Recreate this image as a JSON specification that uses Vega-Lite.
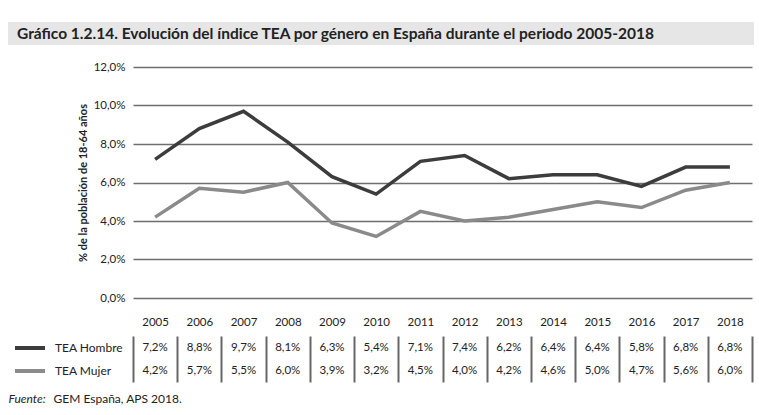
{
  "$schema": "https://vega.github.io/schema/vega-lite/v6.json",
  "padding": {"left": 8, "top": 22, "right": 4, "bottom": 4},
  "background": "white",
  "datasets": {
    "titulo": [{"t": "Gráfico 1.2.14.  Evolución del índice TEA por género en España durante el periodo 2005-2018"}],
    "tea": [
      {"year": 2005, "serie": "TEA Hombre", "value": 0.072},
      {"year": 2006, "serie": "TEA Hombre", "value": 0.088},
      {"year": 2007, "serie": "TEA Hombre", "value": 0.097},
      {"year": 2008, "serie": "TEA Hombre", "value": 0.081},
      {"year": 2009, "serie": "TEA Hombre", "value": 0.063},
      {"year": 2010, "serie": "TEA Hombre", "value": 0.054},
      {"year": 2011, "serie": "TEA Hombre", "value": 0.071},
      {"year": 2012, "serie": "TEA Hombre", "value": 0.074},
      {"year": 2013, "serie": "TEA Hombre", "value": 0.062},
      {"year": 2014, "serie": "TEA Hombre", "value": 0.064},
      {"year": 2015, "serie": "TEA Hombre", "value": 0.064},
      {"year": 2016, "serie": "TEA Hombre", "value": 0.058},
      {"year": 2017, "serie": "TEA Hombre", "value": 0.068},
      {"year": 2018, "serie": "TEA Hombre", "value": 0.068},
      {"year": 2005, "serie": "TEA Mujer", "value": 0.042},
      {"year": 2006, "serie": "TEA Mujer", "value": 0.057},
      {"year": 2007, "serie": "TEA Mujer", "value": 0.055},
      {"year": 2008, "serie": "TEA Mujer", "value": 0.060},
      {"year": 2009, "serie": "TEA Mujer", "value": 0.039},
      {"year": 2010, "serie": "TEA Mujer", "value": 0.032},
      {"year": 2011, "serie": "TEA Mujer", "value": 0.045},
      {"year": 2012, "serie": "TEA Mujer", "value": 0.040},
      {"year": 2013, "serie": "TEA Mujer", "value": 0.042},
      {"year": 2014, "serie": "TEA Mujer", "value": 0.046},
      {"year": 2015, "serie": "TEA Mujer", "value": 0.050},
      {"year": 2016, "serie": "TEA Mujer", "value": 0.047},
      {"year": 2017, "serie": "TEA Mujer", "value": 0.056},
      {"year": 2018, "serie": "TEA Mujer", "value": 0.060}
    ]
  },
  "config": {
    "font": "Lato",
    "view": {"stroke": null},
    "locale": {"number": {"decimal": ",", "thousands": ".", "grouping": [3], "currency": ["", " €"]}}
  },
  "spacing": 16,
  "vconcat": [
    {
      "width": 746,
      "height": 23,
      "view": {"fill": "#e6e6e6", "stroke": null},
      "data": {"name": "titulo"},
      "mark": {"type": "text", "align": "left", "baseline": "middle", "dx": 9, "fontSize": 15.5, "fontWeight": "bold", "color": "#222222"},
      "encoding": {
        "x": {"field": "t", "type": "nominal", "axis": null, "scale": {"type": "point", "padding": 0, "align": 0}},
        "text": {"field": "t"}
      }
    },
    {
      "spacing": 8,
      "vconcat": [
        {
          "width": 746,
          "height": 231,
          "data": {"name": "tea"},
          "mark": {"type": "line", "strokeWidth": 3.5},
          "encoding": {
            "x": {
              "field": "year", "type": "quantitative",
              "scale": {"domain": [2004.5, 2018.5], "range": [125, 744], "nice": false, "zero": false},
              "axis": {"values": [2005, 2006, 2007, 2008, 2009, 2010, 2011, 2012, 2013, 2014, 2015, 2016, 2017, 2018], "format": "d", "title": null, "grid": false, "ticks": false, "domain": false, "labelPadding": 18, "labelFontSize": 11.5, "labelColor": "#222222", "labelFlush": false}
            },
            "y": {
              "field": "value", "type": "quantitative",
              "scale": {"domain": [0, 0.12], "nice": false},
              "axis": {"values": [0, 0.02, 0.04, 0.06, 0.08, 0.1, 0.12], "format": ".1%", "offset": -125, "grid": true, "gridColor": "#6e6e6e", "gridWidth": 1.5, "ticks": false, "domain": false, "labelPadding": 8, "labelFontSize": 11.5, "labelColor": "#222222", "title": "% de la población de 18-64 años", "titleFontSize": 11, "titleFontWeight": "bold", "titleColor": "#222222", "titlePadding": 5}
            },
            "color": {
              "field": "serie", "type": "nominal",
              "scale": {"domain": ["TEA Hombre", "TEA Mujer"], "range": ["#3c3c3c", "#8a8a8a"]},
              "legend": {"orient": "none", "legendX": 5, "legendY": 320, "title": null, "symbolType": "stroke", "symbolSize": 900, "symbolStrokeWidth": 4, "clipHeight": 12, "rowPadding": 11, "labelFontSize": 12, "labelColor": "#222222", "labelOffset": 8, "padding": 0}
            }
          }
        },
        {
          "width": 746,
          "height": 46,
          "data": {"name": "tea"},
          "mark": {"type": "text", "fontSize": 11.5, "color": "#222222"},
          "encoding": {
            "x": {
              "field": "year", "type": "quantitative",
              "scale": {"domain": [2004.5, 2018.5], "range": [125, 744], "nice": false, "zero": false},
              "axis": {"orient": "bottom", "values": [2004.5, 2005.5, 2006.5, 2007.5, 2008.5, 2009.5, 2010.5, 2011.5, 2012.5, 2013.5, 2014.5, 2015.5, 2016.5, 2017.5, 2018.5], "grid": true, "gridColor": "#666666", "gridWidth": 2, "labels": false, "ticks": false, "domain": false, "title": "GEM España, APS 2018.", "titleX": 45, "titleY": 20, "titleAlign": "left", "titleAnchor": "start", "titleBaseline": "alphabetic", "titleFontSize": 12, "titleFontWeight": "normal", "titleColor": "#222222"}
            },
            "y": {
              "field": "serie", "type": "nominal", "sort": ["TEA Hombre", "TEA Mujer"],
              "axis": {"title": "Fuente:", "titleAngle": 0, "titleX": 0, "titleY": 66, "titleAlign": "left", "titleAnchor": "start", "titleBaseline": "alphabetic", "titleFontSize": 12, "titleFontWeight": "normal", "titleFontStyle": "italic", "titleColor": "#222222", "labels": false, "ticks": false, "domain": false}
            },
            "text": {"field": "value", "type": "quantitative", "format": ".1%"}
          }
        }
      ]
    }
  ]
}
